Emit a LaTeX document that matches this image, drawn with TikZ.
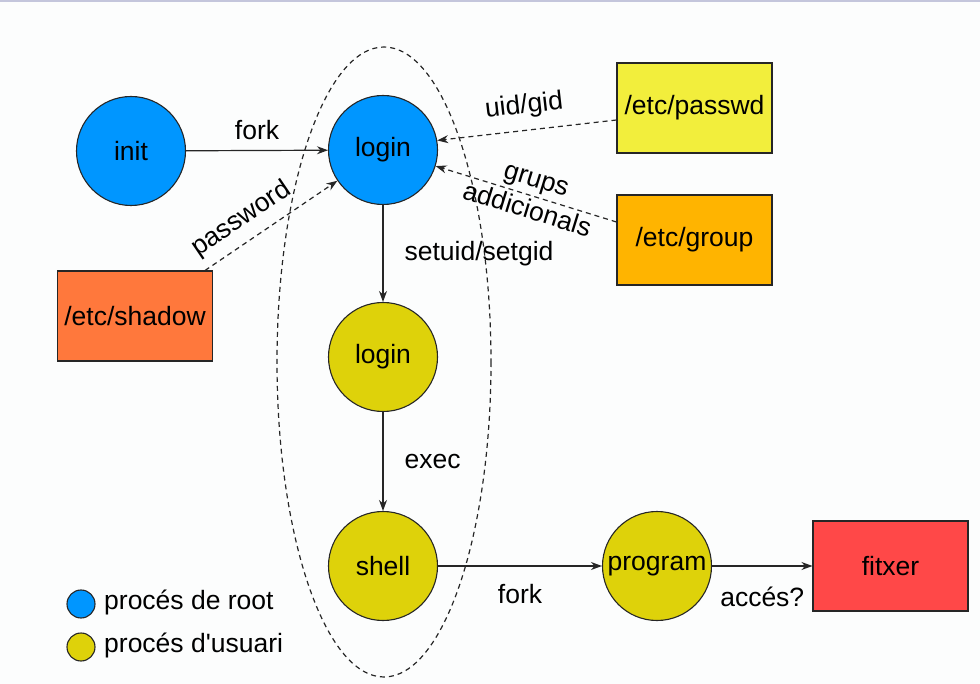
\documentclass[tikz,border=0pt]{standalone}
\usepackage{fontspec}
\setmainfont{Liberation Sans}[Ligatures=TeXOff]
\usetikzlibrary{arrows.meta,shapes.geometric}
\definecolor{bg}{RGB}{252,253,253}
\definecolor{rootblue}{RGB}{0,150,255}
\definecolor{useryel}{RGB}{222,210,10}
\definecolor{passwdcol}{RGB}{242,238,60}
\definecolor{groupcol}{RGB}{255,180,0}
\definecolor{shadowcol}{RGB}{255,120,60}
\definecolor{fitxercol}{RGB}{255,72,72}
\definecolor{topline}{RGB}{196,198,220}
\tikzset{
  proc/.style={circle, draw=black!85, line width=1.1pt, minimum size=109pt, inner sep=0pt, font=\fontsize{26.5}{30}\selectfont},
  rootp/.style={proc, fill=rootblue},
  userp/.style={proc, fill=useryel},
  filebox/.style={rectangle, draw=black!85, line width=1.1pt, minimum width=155pt, minimum height=90pt, font=\fontsize{26.5}{30}\selectfont},
  legdot/.style={circle, draw=black!85, line width=1.1pt, minimum size=28pt, inner sep=0pt},
  lbl/.style={font=\fontsize{26.5}{30}\selectfont, inner sep=2pt},
  arr/.style={-{Stealth[length=11pt,width=8pt]}, line width=1.2pt, draw=black!85},
  darr/.style={arr, dash pattern=on 5pt off 4pt},
}
\begin{document}
\begin{tikzpicture}[x=1pt,y=-1pt]
\fill[bg] (0,0) rectangle (980,684);
\useasboundingbox (0,0) rectangle (980,684);
\fill[topline] (0,0) rectangle (980,2.5);

% dashed ellipse grouping the login chain
\draw[black!85, line width=1.2pt, dash pattern=on 5pt off 4pt] (384,362) ellipse [x radius=107, y radius=315];

% process nodes
\node[rootp] (init) at (131,151) {init};
\node[rootp] (loginr) at (383,150) {login};
\node[userp] (loginu) at (383,357) {login};
\node[userp] (shell) at (383,566) {shell};
\node[userp] (program) at (657,566) {program};

% files
\node[filebox, fill=passwdcol] (passwd) at (694.5,108) {/etc/passwd};
\node[filebox, fill=groupcol] (group) at (694.5,240) {/etc/group};
\node[filebox, fill=shadowcol] (shadow) at (135,316) {/etc/shadow};
\node[filebox, fill=fitxercol] (fitxer) at (890.5,566) {fitxer};

% solid arrows
\draw[arr] (init) -- node[lbl, above=8pt] {fork} (loginr);
\draw[arr] (loginr) -- node[lbl, right=19pt] {setuid/setgid} (loginu);
\draw[arr] (loginu) -- node[lbl, right=19pt] {exec} (shell);
\draw[arr] (shell) -- node[lbl, below=16pt] {fork} (program);
\draw[arr] (program) -- node[lbl, below=18pt] {accés?} (fitxer);

% dashed arrows
\draw[darr] ([yshift=-12pt]passwd.west) -- node[lbl, sloped, above=9pt] {uid/gid} (loginr.10);
\draw[darr] ([yshift=18pt]group.west) -- node[lbl, sloped, align=center, inner sep=0pt, pos=0.47] {grups\\[2pt]addicionals} (loginr.-17);
\draw[darr] ([xshift=-8pt]shadow.north east) -- node[lbl, sloped, above=7pt, pos=0.37] {password} (loginr.214);

% legend
\node[legdot, fill=rootblue] (legroot) at (81,604) {};
\node[lbl, anchor=west] (legroott) at (102,602) {procés de root};
\node[legdot, fill=useryel] (leguser) at (81,647) {};
\node[lbl, anchor=west] (legusert) at (102,645) {procés d'usuari};
\end{tikzpicture}
\end{document}
